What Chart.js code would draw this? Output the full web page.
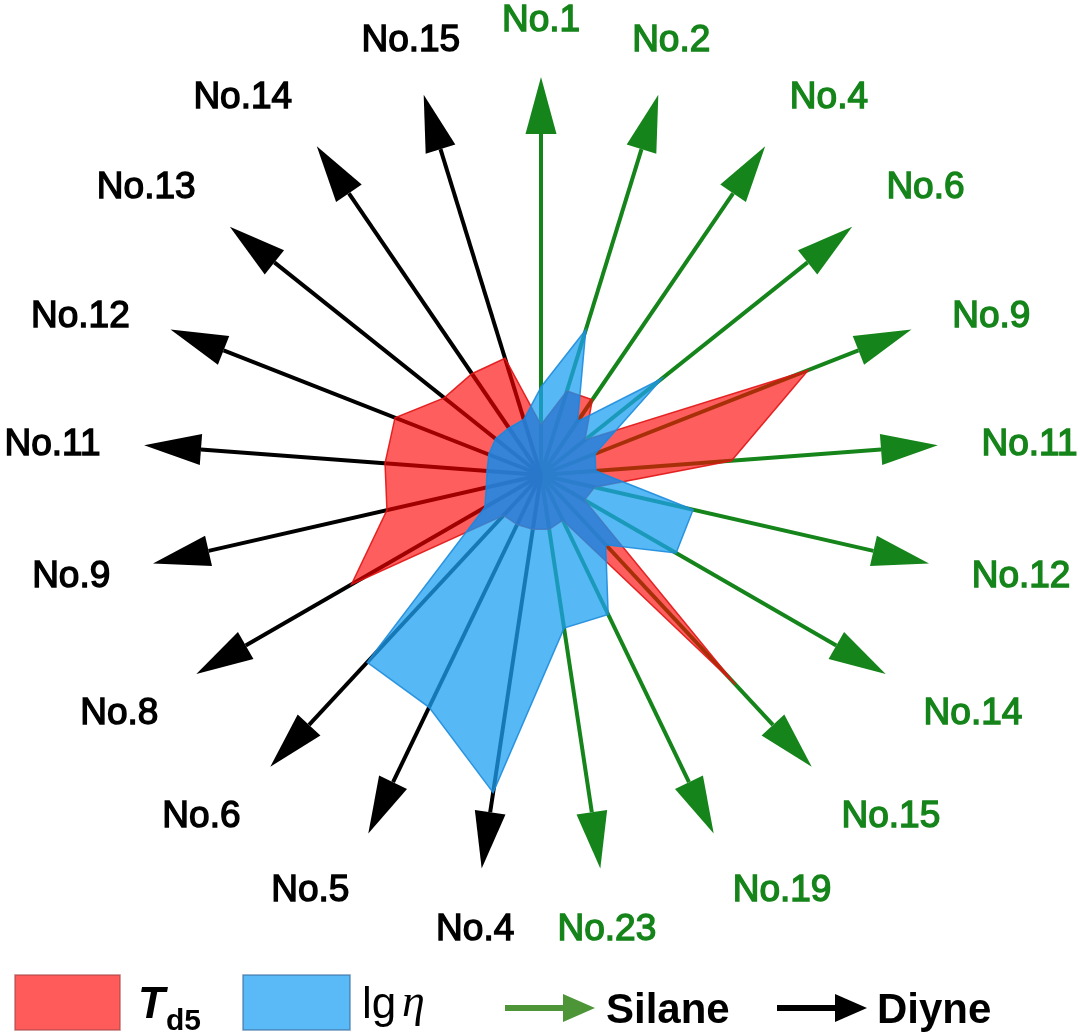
<!DOCTYPE html>
<html>
<head>
<meta charset="utf-8">
<title>Td5 / lg eta radar</title>
<script src="https://cdn.jsdelivr.net/npm/chart.js@4.4.0/dist/chart.umd.min.js"></script>
<style>
  html, body { margin: 0; padding: 0; background: #fff; }
  canvas { display: block; }
</style>
</head>
<body>
<canvas id="radarChart" width="1080" height="1036"></canvas>
<script>
// spokes, clockwise from the top
const labels = ['No.1', 'No.2', 'No.4', 'No.6', 'No.9', 'No.11', 'No.12', 'No.14', 'No.15', 'No.19', 'No.23',
                'No.4', 'No.5', 'No.6', 'No.8', 'No.9', 'No.11', 'No.12', 'No.13', 'No.14', 'No.15'];
const groups = ['Silane', 'Silane', 'Silane', 'Silane', 'Silane', 'Silane', 'Silane', 'Silane', 'Silane', 'Silane', 'Silane',
                'Diyne', 'Diyne', 'Diyne', 'Diyne', 'Diyne', 'Diyne', 'Diyne', 'Diyne', 'Diyne', 'Diyne'];
// relative values (100 = arrow tip)
const td5   = [12.6, 22.1, 22.9, 14.1, 72.1, 48.0, 13.8, 12.6, 71.9, 12.6, 13.8,
               13.8, 13.8, 13.8, 55.0, 39.7, 39.3, 39.4, 31.1, 30.8, 30.7];
const lgEta = [22.1, 38.2, 16.3, 38.9, 14.6, 13.8, 39.2, 39.2, 23.9, 38.9, 38.9,
               80.7, 64.8, 64.2, 16.3, 14.1, 13.6, 14.1, 14.6, 14.3, 14.6];
const axisMax = 100;

const groupColors = { Silane: '#15841a', Diyne: '#000000' };
const FONT = '"Liberation Sans", Arial, sans-serif';

function tracePath(ctx, pts) {
    ctx.beginPath();
    pts.forEach((p, i) => i === 0 ? ctx.moveTo(p.x, p.y) : ctx.lineTo(p.x, p.y));
    ctx.closePath();
}

// arrows under the filled areas
const arrowPlugin = {
    id: 'arrows',
    beforeDatasetsDraw(chart) {
        const ctx = chart.ctx;
        const scale = chart.scales.r;
        const tipR = scale.getDistanceFromCenterForValue(axisMax);
        const headLen = 57, headW = 31;
        ctx.save();
        labels.forEach((lab, i) => {
            const col = groupColors[groups[i]];
            const tip = scale.getPointPosition(i, tipR);
            const base = scale.getPointPosition(i, tipR - headLen);
            const px = -Math.sin(tip.angle), py = Math.cos(tip.angle);
            ctx.strokeStyle = col;
            ctx.fillStyle = col;
            ctx.lineWidth = 4;
            ctx.beginPath();
            ctx.moveTo(scale.xCenter, scale.yCenter);
            ctx.lineTo(base.x, base.y);
            ctx.stroke();
            ctx.beginPath();
            ctx.moveTo(tip.x, tip.y);
            ctx.lineTo(base.x + px * headW / 2, base.y + py * headW / 2);
            ctx.lineTo(base.x - px * headW / 2, base.y - py * headW / 2);
            ctx.closePath();
            ctx.fill();
        });
        ctx.restore();
    },
    afterDatasetsDraw(chart) {
        // darker tone where both areas overlap
        const ctx = chart.ctx;
        const red = chart.getDatasetMeta(0).data;
        const blue = chart.getDatasetMeta(1).data;
        ctx.save();
        tracePath(ctx, red);
        ctx.clip();
        tracePath(ctx, blue);
        ctx.fillStyle = 'rgba(20,120,230,0.47)';
        ctx.fill();
        ctx.restore();
    }
};

// spoke names and the legend row
const textPlugin = {
    id: 'texts',
    afterDraw(chart) {
        const ctx = chart.ctx;
        const scale = chart.scales.r;
        const fs = 37;
        ctx.save();
        ctx.font = fs + 'px ' + FONT;
        ctx.textAlign = 'center';
        ctx.textBaseline = 'alphabetic';
        labels.forEach((lab, i) => {
            const a = scale.getIndexAngle(i);
            const s = Math.sin(a), c = Math.cos(a);
            const halfW = ctx.measureText(lab).width / 2;
            const halfH = 15;
            const p = scale.getPointPosition(i, scale.drawingArea * 1.11);
            // labels sit beside the tip, except the near-vertical ones
            const x = p.x + (Math.abs(s) > 0.35 ? Math.sign(s) * halfW : 0);
            const y = p.y - (Math.abs(c) > 0.45 ? Math.sign(c) * halfH : 0);
            const col = groupColors[groups[i]];
            ctx.fillStyle = col;
            ctx.strokeStyle = col;
            ctx.lineWidth = 1.4;
            ctx.fillText(lab, x, y + fs * 0.358);
            ctx.strokeText(lab, x, y + fs * 0.358);
        });

        // legend
        ctx.textAlign = 'left';
        ctx.lineWidth = 1.5;
        ctx.fillStyle = '#ff5b5b';
        ctx.strokeStyle = 'rgba(170,70,70,0.7)';
        ctx.fillRect(15, 975, 105, 55);
        ctx.strokeRect(15, 975, 105, 55);
        ctx.fillStyle = '#000';
        ctx.font = 'italic bold 44px ' + FONT;
        ctx.fillText('T', 138, 1018);
        ctx.font = 'bold 30px ' + FONT;
        ctx.fillText('d5', 166, 1030);

        ctx.fillStyle = '#5ab9f7';
        ctx.strokeStyle = 'rgba(60,110,160,0.7)';
        ctx.fillRect(243, 975, 107, 55);
        ctx.strokeRect(243, 975, 107, 55);
        ctx.fillStyle = '#000';
        ctx.font = '44px ' + FONT;
        ctx.fillText('lg', 362, 1018);
        ctx.font = 'italic 46px "Liberation Serif", "Times New Roman", serif';
        ctx.fillText('\u03B7', 402, 1016);

        const legendArrow = (x0, x1, col) => {
            const y = 1008;
            ctx.strokeStyle = col;
            ctx.fillStyle = col;
            ctx.lineWidth = 6;
            ctx.beginPath();
            ctx.moveTo(x0, y);
            ctx.lineTo(x1 - 30, y);
            ctx.stroke();
            ctx.beginPath();
            ctx.moveTo(x1, y);
            ctx.lineTo(x1 - 32, y - 14);
            ctx.lineTo(x1 - 32, y + 14);
            ctx.closePath();
            ctx.fill();
        };
        legendArrow(505, 595, '#4e9538');
        legendArrow(777, 867, '#000');

        ctx.fillStyle = '#000';
        ctx.font = 'bold 42px ' + FONT;
        ctx.fillText('Silane', 606, 1023);
        ctx.fillText('Diyne', 877, 1023);
        ctx.restore();
    }
};

new Chart(document.getElementById('radarChart'), {
    type: 'radar',
    data: {
        labels: labels,
        datasets: [{
            label: 'Td5',
            data: td5,
            backgroundColor: 'rgba(255,0,0,0.63)',
            borderColor: 'rgba(225,20,20,0.9)',
            borderWidth: 1.5,
            pointRadius: 0,
            fill: true,
            order: 2
        }, {
            label: 'lg\u03B7',
            data: lgEta,
            backgroundColor: 'rgba(30,160,240,0.75)',
            borderColor: 'rgba(30,140,220,0.9)',
            borderWidth: 1.5,
            pointRadius: 0,
            fill: true,
            order: 1
        }]
    },
    options: {
        responsive: false,
        animation: false,
        devicePixelRatio: 1,
        layout: { padding: { left: 143, right: 141, top: 77, bottom: 163 } },
        plugins: {
            legend: { display: false },
            tooltip: { enabled: false }
        },
        scales: {
            r: {
                min: 0,
                max: axisMax,
                ticks: { display: false },
                pointLabels: { display: false },
                grid: { display: false },
                angleLines: { display: false }
            }
        }
    },
    plugins: [arrowPlugin, textPlugin]
});
</script>
</body>
</html>
